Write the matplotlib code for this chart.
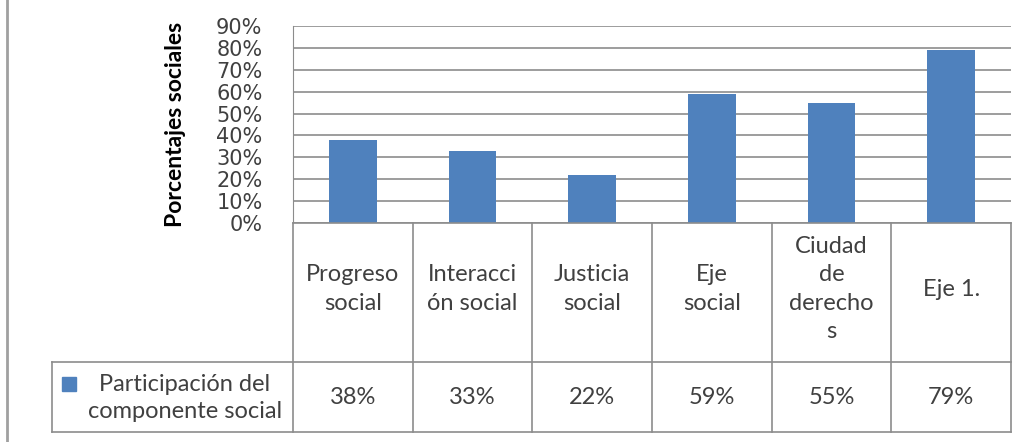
import matplotlib.pyplot as plt
from matplotlib.lines import Line2D

plt.rcParams['font.family'] = ['Lato', 'DejaVu Sans']

# datos del grafico
categorias = ["Progreso\nsocial", "Interacci\nón social", "Justicia\nsocial",
              "Eje\nsocial", "Ciudad\nde\nderecho\ns", "Eje 1."]
participacion = [0.38, 0.33, 0.22, 0.59, 0.55, 0.79]
etiquetas_valor = ["38%", "33%", "22%", "59%", "55%", "79%"]
serie = "Participación del\ncomponente social"
ticks_y = [0, 0.1, 0.2, 0.3, 0.4, 0.5, 0.6, 0.7, 0.8, 0.9]

AZUL = '#4F81BD'
GRIS = '#8C8C8C'
TEXTO = '#404040'
W, H = 1026, 442

fig = plt.figure(figsize=(W / 100, H / 100), dpi=100)

def fx(px):
    return px / W

def fy(py):
    return 1 - py / H

# area del grafico en pixeles
x0, x1, y_top, y_cero = 293, 1011, 26, 223
ax = fig.add_axes([fx(x0), fy(y_cero), fx(x1) - fx(x0), fy(y_top) - fy(y_cero)])

xs = list(range(len(categorias)))
ax.bar(xs, participacion, width=0.4, color=AZUL, zorder=3)
ax.set_xlim(-0.5, len(categorias) - 0.5)
ax.set_ylim(0, 0.9)
ax.set_yticks(ticks_y)
ax.set_yticklabels(["%d%%" % round(t * 100) for t in ticks_y], fontsize=15,
                   color=TEXTO, family='DejaVu Sans')
ax.tick_params(axis='y', length=0, pad=22)
ax.tick_params(axis='x', length=0, labelbottom=False)
ax.yaxis.grid(True, color=GRIS, linewidth=1.2, zorder=0)
for lado in ['top', 'right', 'bottom']:
    ax.spines[lado].set_visible(False)
ax.spines['left'].set_color(GRIS)

fig.text(fx(175), fy(124), "Porcentajes sociales", rotation=90, fontsize=16.5,
         fontweight='bold', ha='center', va='center')

# tabla de datos debajo del grafico
y_fila, y_fin, x_leyenda = 362, 432, 52
col_w = (x1 - x0) / len(categorias)

def linea(xa, ya, xb, yb):
    fig.add_artist(Line2D([fx(xa), fx(xb)], [fy(ya), fy(yb)], color=GRIS, linewidth=1.2))

linea(x0, y_cero, x1, y_cero)
linea(x0, y_cero, x0, y_fin)
for i in range(len(categorias)):
    linea(x0 + (i + 1) * col_w, y_cero, x0 + (i + 1) * col_w, y_fin)
linea(x_leyenda, y_fila, x1, y_fila)
linea(x_leyenda, y_fin, x1, y_fin)
linea(x_leyenda, y_fila, x_leyenda, y_fin)

for i, (cat, val) in enumerate(zip(categorias, etiquetas_valor)):
    cx = x0 + (i + 0.5) * col_w
    fig.text(fx(cx), fy(289), cat, ha='center', va='center', fontsize=17,
             color=TEXTO, linespacing=1.45)
    fig.text(fx(cx), fy(398), val, ha='center', va='center', fontsize=17, color=TEXTO)

fig.add_artist(plt.Rectangle((fx(62), fy(391)), fx(14), 14 / H, color=AZUL))
fig.text(fx(185), fy(398), serie, ha='center', va='center', fontsize=17,
         color=TEXTO, linespacing=1.4)

# borde izquierdo del marco
fig.add_artist(Line2D([fx(7), fx(7)], [0, 1], color='#A0A0A0', linewidth=2))

fig.savefig('out.png', dpi=100)
